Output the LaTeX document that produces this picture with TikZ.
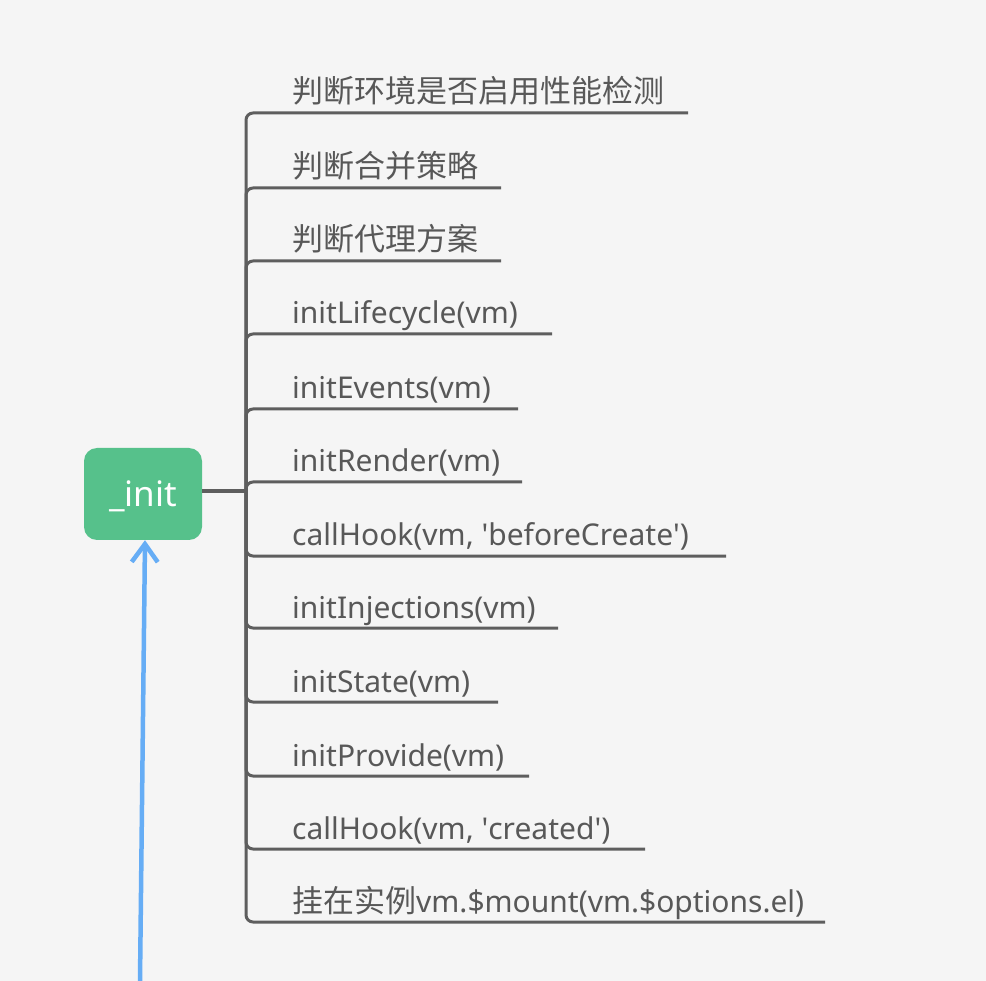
\documentclass[tikz,border=0pt]{standalone}
\usepackage{fontspec}
\setmainfont{Noto Sans}
\newfontfamily\cjk{Noto Sans CJK SC}
\usetikzlibrary{arrows.meta}
\definecolor{bgc}{RGB}{245,245,245}
\definecolor{linec}{RGB}{94,94,94}
\definecolor{textc}{RGB}{88,88,88}
\definecolor{initc}{RGB}{86,193,139}
\definecolor{flowc}{RGB}{102,173,245}
\tikzset{
	item/.style={anchor=base west, inner sep=0pt, text=textc, font=\fontsize{30}{36}\selectfont},
	cjkitem/.style={item, font=\fontsize{31}{36}\selectfont\cjk},
	branch/.style={draw=linec, line width=3pt, rounded corners=7pt},
	initbox/.style={fill=initc, rounded corners=13pt, minimum width=118pt, minimum height=92pt, text=white, font=\fontsize{35}{40}\selectfont, text depth=0pt},
	flow/.style={draw=flowc, line width=4.5pt, -{Straight Barb[length=18pt,width=26pt,line width=4.5pt]}}
}
\def\q{\textquotesingle}

\begin{document}
\begin{tikzpicture}[x=1pt, y=-1pt]
		%%%%% START %%%%%
		
		\fill[bgc] (0, 0) rectangle (986, 981);
		\useasboundingbox (0, 0) rectangle (986, 981);
		
		\node[initbox] (init) at (143, 494) {\_init};
		\coordinate (hub) at (246, 491);
		\coordinate (src) at (140, 981);
		
		\node[cjkitem] (t1) at (292, 103) {判断环境是否启用性能检测};
		\node[cjkitem] (t2) at (292, 178) {判断合并策略};
		\node[cjkitem] (t3) at (292, 251) {判断代理方案};
		\node[item] (t4) at (292, 324) {initLifecycle(vm)};
		\node[item] (t5) at (292, 399) {initEvents(vm)};
		\node[item] (t6) at (292, 472) {initRender(vm)};
		\node[item] (t7) at (292, 546) {callHook(vm, \q beforeCreate\q)};
		\node[item] (t8) at (292, 618) {initInjections(vm)};
		\node[item] (t9) at (292, 692) {initState(vm)};
		\node[item] (t10) at (292, 766) {initProvide(vm)};
		\node[item] (t11) at (292, 839) {callHook(vm, \q created\q)};
		\node[item] (t12) at (292, 912) {{\cjk\fontsize{31}{36}\selectfont 挂在实例}vm.\$mount(vm.\$options.el)};
		
		\coordinate (u1) at (688, 113);
		\coordinate (u2) at (501, 188);
		\coordinate (u3) at (501, 261);
		\coordinate (u4) at (552, 334);
		\coordinate (u5) at (518, 409);
		\coordinate (u6) at (522, 482);
		\coordinate (u7) at (726, 556);
		\coordinate (u8) at (558, 628);
		\coordinate (u9) at (498, 702);
		\coordinate (u10) at (529, 776);
		\coordinate (u11) at (645, 849);
		\coordinate (u12) at (825, 922);
		
		\draw[branch, line width=4pt] (init.east |- hub) -- (hub);
		\draw[branch] (hub) |- (u1);
		\draw[branch] (hub) |- (u2);
		\draw[branch] (hub) |- (u3);
		\draw[branch] (hub) |- (u4);
		\draw[branch] (hub) |- (u5);
		\draw[branch] (hub) |- (u6);
		\draw[branch] (hub) |- (u7);
		\draw[branch] (hub) |- (u8);
		\draw[branch] (hub) |- (u9);
		\draw[branch] (hub) |- (u10);
		\draw[branch] (hub) |- (u11);
		\draw[branch] (hub) |- (u12);
		
		\draw[flow] (src) -- ([xshift=2pt]init.south);
		
		%%%%% END %%%%%
\end{tikzpicture}
\end{document}
